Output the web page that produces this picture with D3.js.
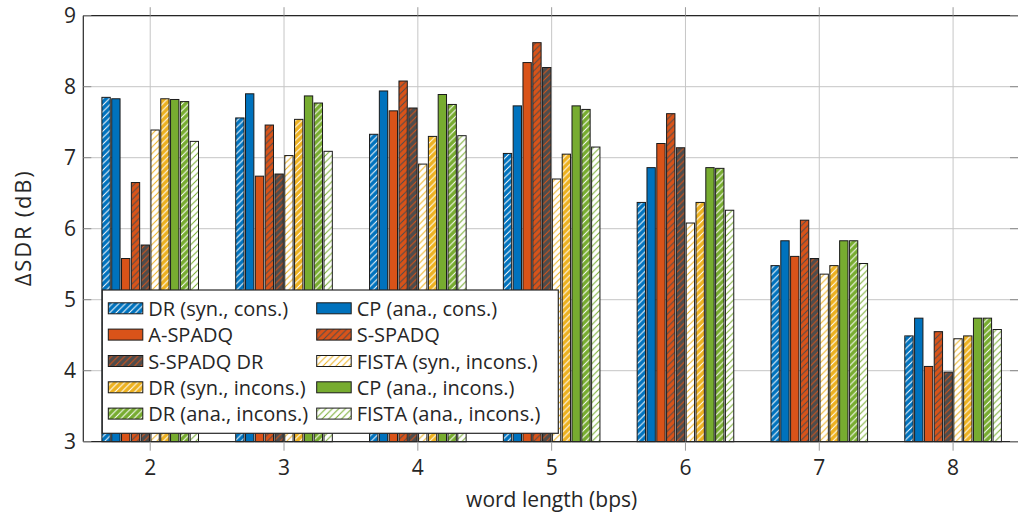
<!DOCTYPE html>
<html>
<head>
<meta charset="utf-8">
<script src="https://cdn.jsdelivr.net/npm/d3@7"></script>
<style>
  html, body { margin: 0; padding: 0; background: #fff; }
  svg { display: block; }
  text { font-family: "Open Sans", Lato, sans-serif; fill: #262626; }
</style>
</head>
<body>
<svg id="chart" width="1018" height="513"></svg>
<script>
// ---------- data ----------
const categories = [2, 3, 4, 5, 6, 7, 8];
const seriesNames = [
  "DR (syn., cons.)", "CP (ana., cons.)", "A-SPADQ", "S-SPADQ", "S-SPADQ DR",
  "FISTA (syn., incons.)", "DR (syn., incons.)", "CP (ana., incons.)",
  "DR (ana., incons.)", "FISTA (ana., incons.)"
];
const drSynCons     = [7.85, 7.56, 7.33, 7.06, 6.37, 5.48, 4.49];
const cpAnaCons     = [7.83, 7.90, 7.94, 7.73, 6.86, 5.83, 4.74];
const aSpadq        = [5.58, 6.74, 7.66, 8.34, 7.20, 5.61, 4.06];
const sSpadq        = [6.65, 7.46, 8.08, 8.62, 7.62, 6.12, 4.55];
const sSpadqDr      = [5.77, 6.77, 7.70, 8.27, 7.14, 5.58, 3.98];
const fistaSynIncons= [7.39, 7.03, 6.91, 6.70, 6.08, 5.36, 4.45];
const drSynIncons   = [7.83, 7.54, 7.30, 7.05, 6.37, 5.48, 4.49];
const cpAnaIncons   = [7.82, 7.87, 7.89, 7.73, 6.86, 5.83, 4.74];
const drAnaIncons   = [7.79, 7.77, 7.75, 7.68, 6.85, 5.83, 4.74];
const fistaAnaIncons= [7.23, 7.09, 7.31, 7.15, 6.26, 5.51, 4.58];
const seriesValues = [drSynCons, cpAnaCons, aSpadq, sSpadq, sSpadqDr,
  fistaSynIncons, drSynIncons, cpAnaIncons, drAnaIncons, fistaAnaIncons];
const yTicks = [3, 4, 5, 6, 7, 8, 9];

// ---------- styles ----------
const BLUE = "#0072BD", ORANGE = "#D95319", YELLOW = "#EDB120",
      GRAY = "#4D4D4D", GREEN = "#77AC30", WHITE = "#FFFFFF";
// [fill, hatch color or null]
const styles = [
  [BLUE, WHITE], [BLUE, null], [ORANGE, null], [ORANGE, GRAY], [GRAY, ORANGE],
  [WHITE, YELLOW], [YELLOW, WHITE], [GREEN, null], [GREEN, WHITE], [WHITE, GREEN]
];

const svg = d3.select("#chart");
const L = 83.3, R = 1020, T = 15.7, B = 441.7;

const x = d3.scaleLinear().domain([1.5, 8.5]).range([L, R]);
const y = d3.scaleLinear().domain([3, 9]).range([B, T]);
const inner = d3.scaleBand().domain(d3.range(seriesNames.length))
  .range([-48.3, 48.3]).paddingInner(0.15);

// patterns
const defs = svg.append("defs");
styles.forEach((s, i) => {
  if (!s[1]) return;
  const p = defs.append("pattern").attr("id", "pat" + i)
    .attr("patternUnits", "userSpaceOnUse").attr("width", 6.5).attr("height", 6.5);
  p.append("rect").attr("width", 6.5).attr("height", 6.5).attr("fill", s[0]);
  p.append("path").attr("d", "M-1,7.5 L7.5,-1 M-1,1 L1,-1 M5.5,7.5 L7.5,5.5")
    .attr("stroke", s[1]).attr("stroke-width", 1);
});
const fillOf = i => styles[i][1] ? `url(#pat${i})` : styles[i][0];

// gridlines
const g = svg.append("g");
g.selectAll(".vg").data(categories).join("line")
  .attr("x1", d => x(d)).attr("x2", d => x(d)).attr("y1", T).attr("y2", B)
  .attr("stroke", "#c6c6c6").attr("stroke-width", 1);
g.selectAll(".hg").data(yTicks).join("line")
  .attr("x1", L).attr("x2", R).attr("y1", d => y(d)).attr("y2", d => y(d))
  .attr("stroke", "#c6c6c6").attr("stroke-width", 1);

// bars
const bars = svg.append("g");
categories.forEach((c, ci) => {
  seriesValues.forEach((vals, si) => {
    const v = vals[ci];
    bars.append("rect")
      .attr("x", x(c) + inner(si))
      .attr("y", y(v))
      .attr("width", inner.bandwidth())
      .attr("height", y(3) - y(v))
      .attr("fill", fillOf(si))
      .attr("stroke", "#1a1a1a").attr("stroke-width", 1);
  });
});

// frame
svg.append("line").attr("x1", L).attr("x2", R).attr("y1", T).attr("y2", T)
  .attr("stroke", "#262626").attr("stroke-width", 1.2);
svg.append("line").attr("x1", L).attr("x2", R).attr("y1", B).attr("y2", B)
  .attr("stroke", "#262626").attr("stroke-width", 1.2);
svg.append("line").attr("x1", L).attr("x2", L).attr("y1", T).attr("y2", B)
  .attr("stroke", "#262626").attr("stroke-width", 1.2);

// x ticks (outside, top and bottom)
svg.selectAll(".xtb").data(categories).join("line")
  .attr("x1", d => x(d)).attr("x2", d => x(d)).attr("y1", B).attr("y2", B + 9)
  .attr("stroke", "#9a9a9a");
svg.selectAll(".xtt").data(categories).join("line")
  .attr("x1", d => x(d)).attr("x2", d => x(d)).attr("y1", T - 8.5).attr("y2", T)
  .attr("stroke", "#9a9a9a");
// y ticks
svg.selectAll(".ytl").data(yTicks).join("line")
  .attr("x1", L).attr("x2", L + 8).attr("y1", d => y(d)).attr("y2", d => y(d))
  .attr("stroke", "#8a8a8a");
svg.selectAll(".ytr").data(yTicks).join("line")
  .attr("x1", R - 10).attr("x2", R).attr("y1", d => y(d)).attr("y2", d => y(d))
  .attr("stroke", "#8a8a8a");

// tick labels
svg.selectAll(".xl").data(categories).join("text")
  .attr("x", d => x(d)).attr("y", 475)
  .attr("text-anchor", "middle").attr("font-size", 21).text(d => d);
svg.selectAll(".yl").data(yTicks).join("text")
  .attr("x", 76).attr("y", d => y(d) + 7.5)
  .attr("text-anchor", "end").attr("font-size", 21).text(d => d);

// axis labels
svg.append("text").attr("x", (L + R) / 2).attr("y", 507)
  .attr("text-anchor", "middle").attr("font-size", 21).text("word length (bps)");
svg.append("text").attr("transform", `translate(31,${(T + B) / 2}) rotate(-90)`)
  .attr("text-anchor", "middle").attr("font-size", 22)
  .attr("textLength", 115).attr("lengthAdjust", "spacing").text("ΔSDR (dB)");

// legend
const lg = svg.append("g");
lg.append("rect").attr("x", 102.3).attr("y", 290).attr("width", 456).attr("height", 143.3)
  .attr("fill", "#fff").attr("stroke", "#262626").attr("stroke-width", 1.2);
const colX = [108.3, 316.7];
const rowY = [308.3, 334.6, 361, 387.3, 413.6];
seriesNames.forEach((name, i) => {
  const cx = colX[i % 2], cy = rowY[Math.floor(i / 2)];
  lg.append("rect").attr("x", cx).attr("y", cy - 5.5).attr("width", 34.5).attr("height", 11)
    .attr("fill", fillOf(i)).attr("stroke", "#1a1a1a").attr("stroke-width", 1);
  lg.append("text").attr("x", cx + 40).attr("y", cy + 7.5)
    .attr("font-size", 20).text(name);
});
</script>
</body>
</html>
